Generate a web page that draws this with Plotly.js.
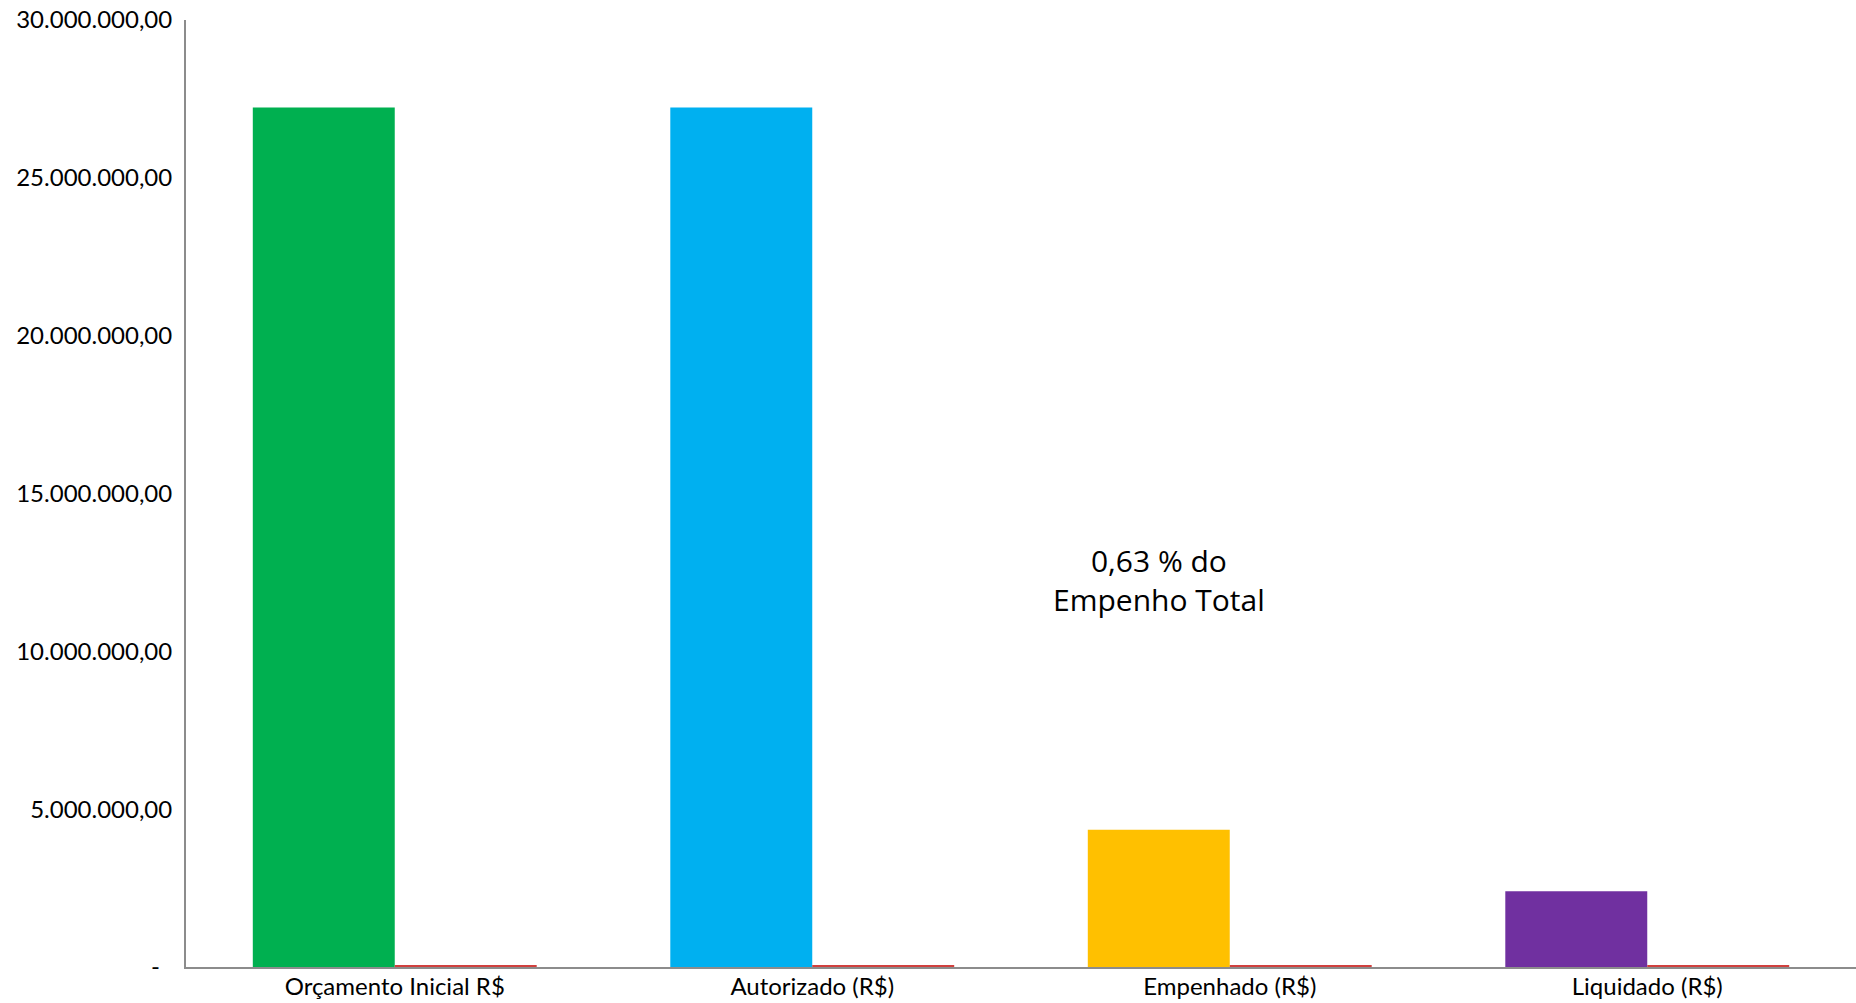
<!DOCTYPE html>
<html>
<head>
<meta charset="utf-8">
<script src="https://cdn.plot.ly/plotly-3.0.1.min.js"></script>
<style>
html,body{margin:0;padding:0;background:#fff;}
#chart{width:1856px;height:1003px;}
</style>
</head>
<body>
<div id="chart"></div>
<script>
const categories = ["Orçamento Inicial R$", "Autorizado (R$)", "Empenhado (R$)", "Liquidado (R$)"];
const valores = [27230000, 27230000, 4350000, 2400000];
const coresBarras = ["#00B050", "#00B0F0", "#FFC000", "#7030A0"];
const percentuais = [60000, 60000, 60000, 60000];
const yTickVals = [0, 5000000, 10000000, 15000000, 20000000, 25000000, 30000000];
const yTickText = ["-\u00a0\u00a0", "5.000.000,00", "10.000.000,00", "15.000.000,00", "20.000.000,00", "25.000.000,00", "30.000.000,00"];
const anotacao = "0,63 % do<br>Empenho Total";

const fontFam = "Lato, 'Open Sans', 'Noto Sans', sans-serif";

const traces = [
  {
    type: "bar",
    x: categories,
    y: valores,
    marker: {color: coresBarras, line: {width: 0}},
    hoverinfo: "x+y",
    showlegend: false
  },
  {
    type: "bar",
    x: categories,
    y: percentuais,
    marker: {color: "#D0403E", line: {width: 0}},
    hoverinfo: "x+y",
    showlegend: false
  }
];

const layout = {
  width: 1856,
  height: 1003,
  paper_bgcolor: "#fff",
  plot_bgcolor: "#fff",
  margin: {l: 186, r: 0, t: 20, b: 36},
  barmode: "group",
  bargap: 0.32,
  bargroupgap: 0,
  font: {family: fontFam, size: 24, color: "#000"},
  xaxis: {
    type: "category",
    showgrid: false,
    zeroline: false,
    showline: true,
    linecolor: "#8C8C8C",
    linewidth: 2,
    ticks: "",
    tickfont: {family: fontFam, size: 24, color: "#000"},
    ticklabelstandoff: -3,
    fixedrange: true
  },
  yaxis: {
    range: [0, 30000000],
    showgrid: false,
    zeroline: false,
    showline: true,
    linecolor: "#8C8C8C",
    linewidth: 2,
    ticks: "",
    tickvals: yTickVals,
    ticktext: yTickText,
    tickfont: {family: fontFam, size: 24, color: "#000"},
    ticklabelstandoff: 7,
    fixedrange: true
  },
  annotations: [
    {
      x: 1.83,
      y: 12250000,
      xref: "x",
      yref: "y",
      text: anotacao,
      showarrow: false,
      align: "center",
      font: {family: "'Open Sans', Lato, sans-serif", size: 30, color: "#000"}
    }
  ]
};

Plotly.newPlot("chart", traces, layout, {displayModeBar: false, staticPlot: true});
</script>
</body>
</html>
